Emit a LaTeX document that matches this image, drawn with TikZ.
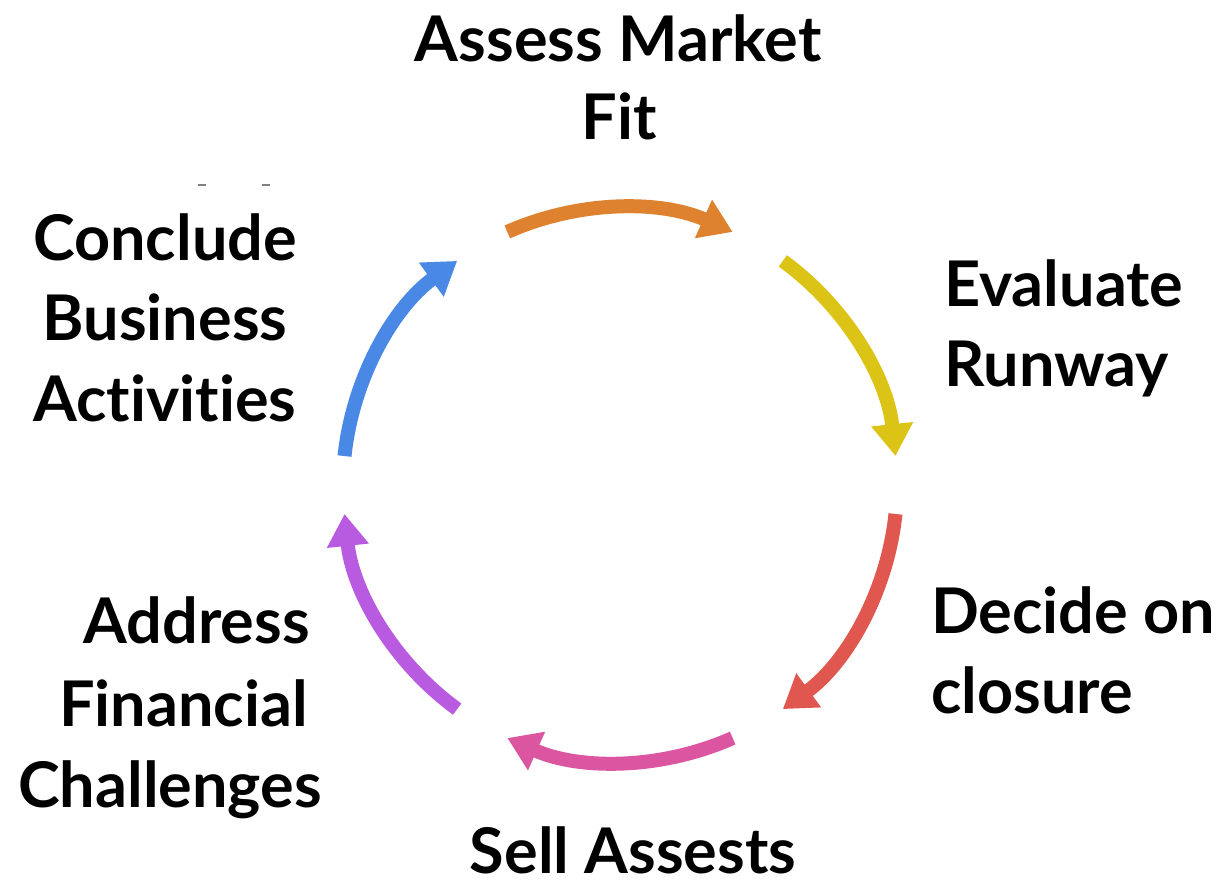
\documentclass[tikz,border=0pt]{standalone}
\usepackage{fontspec}
\setmainfont{Lato}[Ligatures={NoCommon}]
\usetikzlibrary{arrows.meta}
\definecolor{arrOrange}{HTML}{DE8230}
\definecolor{arrYellow}{HTML}{DCC416}
\definecolor{arrRed}{HTML}{E0574F}
\definecolor{arrPink}{HTML}{DC55A0}
\definecolor{arrPurple}{HTML}{B95BE0}
\definecolor{arrBlue}{HTML}{4A88E5}
\begin{document}
\begin{tikzpicture}[x=1pt,y=1pt,
  lbl/.style={inner sep=0pt,font=\fontsize{63}{80}\selectfont\bfseries},
  cyc/.style={line width=14pt,-{Triangle[width=40pt,length=32pt]}}]
\useasboundingbox (0,0) rectangle (1229,879);
% centre of the cycle
\coordinate (c) at (620,394);
\def\rad{277}
% six arcs of the cycle, each 48 degrees wide
\draw[cyc,arrOrange] (c) ++(114:\rad) arc[start angle=114,end angle=66,radius=\rad];
\draw[cyc,arrYellow] (c) ++(54:\rad) arc[start angle=54,end angle=6,radius=\rad];
\draw[cyc,arrRed]    (c) ++(-6:\rad) arc[start angle=-6,end angle=-54,radius=\rad];
\draw[cyc,arrPink]   (c) ++(-66:\rad) arc[start angle=-66,end angle=-114,radius=\rad];
\draw[cyc,arrPurple] (c) ++(-126:\rad) arc[start angle=-126,end angle=-174,radius=\rad];
\draw[cyc,arrBlue]   (c) ++(174:\rad) arc[start angle=174,end angle=126,radius=\rad];
% step labels, one node per line
\node[lbl,anchor=base] (am1) at (618,817) {Assess Market};
\node[lbl,anchor=base] (am2) at (619,739) {Fit};
\node[lbl,anchor=base west] (ev1) at (944,572) {Evaluate};
\node[lbl,anchor=base west] (ev2) at (944,492) {Runway};
\node[lbl,anchor=base west] (dc1) at (931,245) {Decide on};
\node[lbl,anchor=base west] (dc2) at (931,166) {closure};
\node[lbl,anchor=base,text depth=0pt] (sa) at (633,6) {Sell Assests};
\node[lbl,anchor=base] (cb1) at (165,618) {Conclude};
\node[lbl,anchor=base] (cb2) at (165,538) {Business};
\node[lbl,anchor=base] (cb3) at (165,457) {Activities};
\node[lbl,anchor=base east] (af1) at (310,236) {Address};
\node[lbl,anchor=base east] (af2) at (308,153) {Financial};
\node[lbl,anchor=base east] (af3) at (322,72) {Challenges};
% two small grey ticks above the left label
\draw[gray,line width=1.2pt] (198,694) -- (206,694) (262,694) -- (270,694);
\end{tikzpicture}
\end{document}
